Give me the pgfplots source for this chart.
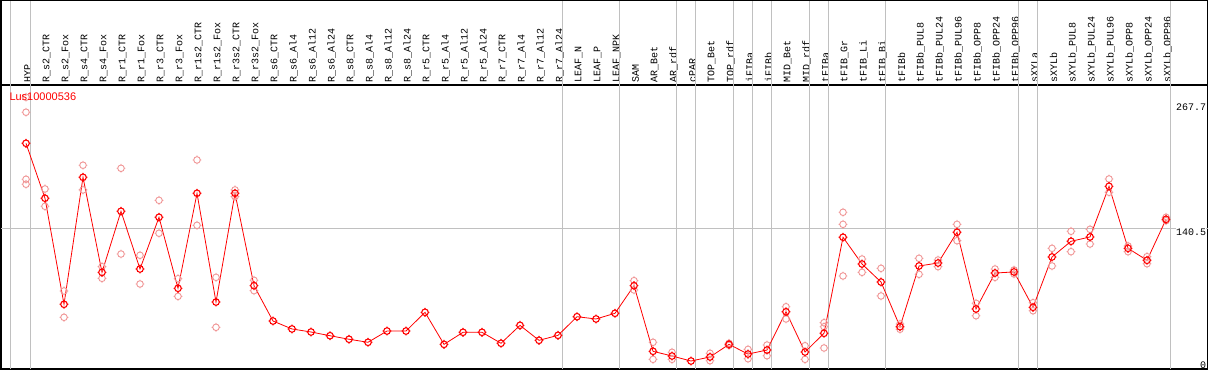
\documentclass[border=0pt]{standalone}
\usepackage{fontspec}
\usepackage{pgfplots}
\pgfplotsset{compat=1.18}
\newfontfamily\labfont{Liberation Mono}
\newfontfamily\titlefont{Liberation Sans}
\definecolor{meanred}{RGB}{255,0,0}
\definecolor{reppink}{RGB}{240,150,150}
\definecolor{grid}{RGB}{192,192,192}
\pgfdeclareplotmark{tcirc}{%
  \pgfpathcircle{\pgfpointorigin}{\pgfplotmarksize}%
  \pgfpathmoveto{\pgfqpoint{0pt}{\pgfplotmarksize}}\pgfpathlineto{\pgfqpoint{0pt}{1.35\pgfplotmarksize}}%
  \pgfpathmoveto{\pgfqpoint{0pt}{-\pgfplotmarksize}}\pgfpathlineto{\pgfqpoint{0pt}{-1.35\pgfplotmarksize}}%
  \pgfpathmoveto{\pgfqpoint{\pgfplotmarksize}{0pt}}\pgfpathlineto{\pgfqpoint{1.35\pgfplotmarksize}{0pt}}%
  \pgfpathmoveto{\pgfqpoint{-\pgfplotmarksize}{0pt}}\pgfpathlineto{\pgfqpoint{-1.35\pgfplotmarksize}{0pt}}%
  \pgfusepathqstroke}
\pgfplotstableread{
x y
1 274.2
1 258.9
1 190.5
1 185.4
2 180.6
2 162.9
3 76.5
3 49.6
4 204.8
4 179.6
5 101.3
5 89.4
6 201.7
6 114.2
7 112.9
7 83.6
8 169.0
8 135.4
9 89.0
9 71.0
10 210.2
10 143.5
11 90.4
11 39.4
12 179.6
12 172.7
13 87.4
13 76.8
33 87.0
33 77.5
34 24.1
34 6.7
35 13.9
35 6.7
37 12.9
37 5.3
38 23.1
38 21.0
39 16.9
39 7.3
40 21.3
40 10.4
41 60.4
41 47.9
42 20.6
42 6.7
43 44.1
43 40.0
43 18.3
44 156.8
44 144.5
44 91.8
45 109.1
45 95.5
46 99.6
46 71.4
47 37.4
47 42.8
48 109.8
48 93.5
49 108.1
49 101.3
50 144.5
50 127.8
51 63.9
51 51.2
52 98.9
52 90.4
53 97.9
53 93.8
54 64.5
54 56.3
55 120.0
55 102.0
56 137.4
56 116.6
57 139.4
57 124.4
58 190.8
58 177.2
59 122.4
59 116.6
60 111.5
60 104.3
61 151.7
61 148.2
}\reps
\begin{document}
\begin{tikzpicture}
\begin{axis}[
  at={(1pt,1pt)}, anchor=south west,
  scale only axis, width=1206.7pt, height=284pt,
  xmin=-0.3158, xmax=63.195, ymin=-3.16, ymax=286.7,
  axis line style={line width=1.2pt, black},
  ytick=\empty,
  xtick={1,...,61},
  xticklabels={HYP,R\_s2\_CTR,R\_s2\_Fox,R\_s4\_CTR,R\_s4\_Fox,R\_r1\_CTR,R\_r1\_Fox,R\_r3\_CTR,R\_r3\_Fox,R\_r1s2\_CTR,R\_r1s2\_Fox,R\_r3s2\_CTR,R\_r3s2\_Fox,R\_s6\_CTR,R\_s6\_Al4,R\_s6\_Al12,R\_s6\_Al24,R\_s8\_CTR,R\_s8\_Al4,R\_s8\_Al12,R\_s8\_Al24,R\_r5\_CTR,R\_r5\_Al4,R\_r5\_Al12,R\_r5\_Al24,R\_r7\_CTR,R\_r7\_Al4,R\_r7\_Al12,R\_r7\_Al24,LEAF\_N,LEAF\_P,LEAF\_NPK,SAM,AR\_Bet,AR\_rdf,cPAR,TOP\_Bet,TOP\_rdf,iFIBa,iFIBb,MID\_Bet,MID\_rdf,tFIBa,tFIB\_Gr,tFIB\_Li,tFIB\_Bi,tFIBb,tFIBb\_PUL8,tFIBb\_PUL24,tFIBb\_PUL96,tFIBb\_OPP8,tFIBb\_OPP24,tFIBb\_OPP96,sXYLa,sXYLb,sXYLb\_PUL8,sXYLb\_PUL24,sXYLb\_PUL96,sXYLb\_OPP8,sXYLb\_OPP24,sXYLb\_OPP96},
  xticklabel pos=upper,
  xticklabel style={rotate=90, anchor=west, yshift=-1.5pt, inner xsep=2pt, inner ysep=0pt, font=\labfont\fontsize{10}{10}\selectfont},
  major tick length=0pt,
  clip=false,
]
\pgfplotsinvokeforeach{0.16,1.23,29.23,32.23,35.23,36.23,38.23,39.23,40.23,42.23,43.23,46.23,53.23,54.23,61.22}{
  \draw[grid, line width=0.9pt] (axis cs:#1,-3.16) -- ([yshift=84.5pt]axis cs:#1,286.7);
}
\draw[grid, line width=0.9pt] (axis cs:-0.3158,140.5) -- (axis cs:63.195,140.5);
\addplot[only marks, mark=tcirc, mark size=3.3pt, reppink, mark options={line width=0.9pt}] table[x=x,y=y] {\reps};
\addplot[meanred, line width=0.8pt, mark=tcirc, mark size=3.3pt, mark options={line width=1.1pt}] coordinates {
(1,227.2)(2,171.1)(3,62.9)(4,192.5)(5,95.5)(6,157.8)(7,98.9)(8,151.7)(9,79.2)(10,176.2)(11,65.2)(12,176.2)(13,81.9)(14,45.8)(15,37.7)(16,34.6)(17,30.8)(18,27.2)(19,24.1)(20,35.6)(21,35.6)(22,54.7)(23,22.0)(24,34.3)(25,34.3)(26,23.1)(27,41.4)(28,26.1)(29,31.2)(30,50.2)(31,47.9)(32,53.7)(33,81.9)(34,14.9)(35,10.1)(36,5.0)(37,9.1)(38,22.0)(39,12.1)(40,16.2)(41,55.3)(42,14.2)(43,33.3)(44,131.3)(45,104.0)(46,85.6)(47,40.0)(48,102.0)(49,105.0)(50,136.4)(51,58.1)(52,94.8)(53,95.9)(54,59.8)(55,111.2)(56,127.2)(57,131.6)(58,183.3)(59,120.0)(60,107.8)(61,149.6)
};
\node[anchor=north east, inner sep=0pt, xshift=-1.5pt, fill=white, font=\labfont\fontsize{10}{10}\selectfont] at (axis cs:63.195,267.7) {267.7};
\node[anchor=north east, inner sep=0pt, xshift=-1.5pt, fill=white, font=\labfont\fontsize{10}{10}\selectfont] at (axis cs:63.195,140.5) {140.5};
\node[anchor=north east, inner sep=0pt, xshift=-1.5pt, fill=white, font=\labfont\fontsize{10}{10}\selectfont] at (axis cs:63.195,4.7) {0};
\end{axis}
\draw[line width=1.2pt, black] (1pt,285pt) -- (1pt,369.4pt) -- (1207.7pt,369.4pt) -- (1207.7pt,285pt);
\node[anchor=north west, inner sep=0pt, text=meanred, font=\titlefont\fontsize{11}{11}\selectfont] at (9.3pt,277.3pt) {Lus10000536};
\pgfresetboundingbox
\useasboundingbox (0pt,0pt) rectangle (1209pt,370pt);
\end{tikzpicture}
\end{document}
